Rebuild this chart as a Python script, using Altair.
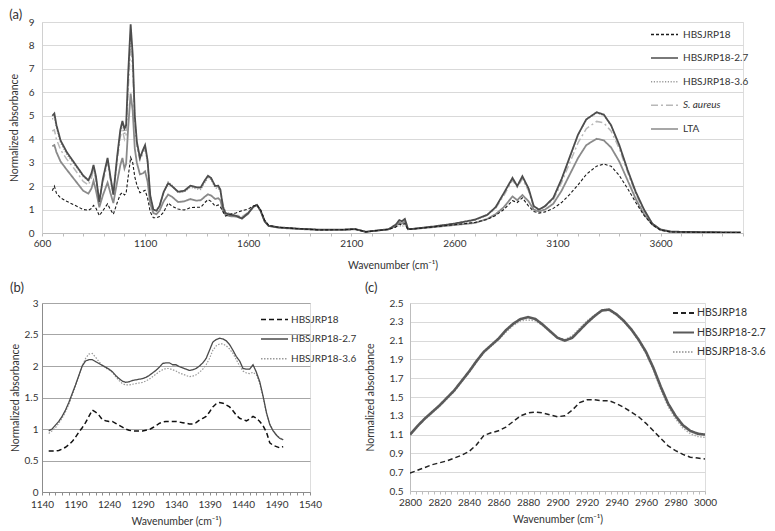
import altair as alt
import pandas as pd

FONT = "Lato"
TXT = "#333333"

SERIES_A = ["HBSJRP18", "HBSJRP18-2.7", "HBSJRP18-3.6", "S. aureus", "LTA"]
SERIES_BC = ["HBSJRP18", "HBSJRP18-2.7", "HBSJRP18-3.6"]

# ---------------- panel (a) ----------------
WN_A = [650, 660, 670, 690, 720, 760, 800, 825, 840, 850,
        862, 878, 895, 918, 932, 946, 965, 980, 990, 1000,
        1008, 1018, 1030, 1040, 1050, 1060, 1075, 1090, 1100, 1112,
        1125, 1140, 1155, 1170, 1190, 1212, 1230, 1260, 1290, 1320,
        1350, 1370, 1390, 1405, 1420, 1440, 1455, 1465, 1478, 1490,
        1510, 1540, 1570, 1600, 1625, 1642, 1660, 1680, 1700, 1750,
        1850, 1950, 2050, 2120, 2170, 2220, 2280, 2315, 2333, 2345,
        2360, 2375, 2400, 2500, 2600, 2700, 2760, 2800, 2840, 2882,
        2905, 2930, 2960, 2985, 3010, 3040, 3080, 3120, 3160, 3200,
        3240, 3290, 3325, 3360, 3400, 3440, 3480, 3520, 3560, 3600,
        3650, 3700, 3800, 3900, 3990]

A_HB = [1.80, 2.00, 1.70, 1.50, 1.35, 1.18, 1.00, 0.97, 1.05, 1.18,
        1.05, 0.74, 0.95, 1.24, 1.00, 0.80, 1.30, 1.65, 1.72, 1.62,
        1.70, 2.40, 3.22, 3.00, 2.40, 2.05, 1.72, 1.78, 1.82, 1.50,
        0.90, 0.65, 0.65, 0.70, 0.89, 1.28, 1.15, 1.02, 0.98, 1.08,
        1.10, 1.10, 1.30, 1.42, 1.35, 1.15, 1.20, 1.12, 0.90, 0.72,
        0.80, 0.85, 0.95, 1.02, 1.15, 1.20, 1.00, 0.55, 0.32, 0.24,
        0.18, 0.13, 0.14, 0.16, 0.05, 0.10, 0.15, 0.25, 0.38, 0.35,
        0.40, 0.15, 0.17, 0.26, 0.35, 0.45, 0.58, 0.75, 1.00, 1.38,
        1.30, 1.50, 1.15, 0.92, 0.85, 0.90, 1.05, 1.30, 1.65, 2.05,
        2.50, 2.85, 2.94, 2.85, 2.45, 1.90, 1.30, 0.75, 0.35, 0.12,
        0.04, 0.04, 0.03, 0.02, 0.02]

A_27 = [5.00, 5.10, 4.60, 3.95, 3.45, 2.95, 2.45, 2.25, 2.55, 2.90,
        2.40, 1.32, 2.30, 3.20, 2.40, 1.64, 3.30, 4.40, 4.78, 4.45,
        4.60, 6.80, 8.90, 7.60, 5.00, 3.90, 3.20, 3.55, 3.75, 3.10,
        1.60, 1.00, 0.95, 1.15, 1.75, 2.12, 2.00, 1.76, 1.80, 2.02,
        1.95, 1.95, 2.25, 2.44, 2.35, 2.00, 2.02, 1.85, 1.10, 0.85,
        0.78, 0.74, 0.62, 0.85, 1.12, 1.20, 0.95, 0.50, 0.30, 0.24,
        0.18, 0.14, 0.14, 0.17, 0.05, 0.10, 0.16, 0.35, 0.55, 0.50,
        0.60, 0.18, 0.18, 0.28, 0.40, 0.57, 0.78, 1.10, 1.70, 2.35,
        2.00, 2.42, 1.90, 1.15, 1.00, 1.15, 1.50, 2.30, 3.25, 4.20,
        4.85, 5.15, 5.05, 4.60, 3.75, 2.70, 1.75, 1.00, 0.40, 0.15,
        0.06, 0.05, 0.04, 0.03, 0.02]

A_36 = [4.85, 4.95, 4.50, 3.85, 3.35, 2.88, 2.40, 2.20, 2.50, 2.85,
        2.35, 1.35, 2.25, 3.15, 2.35, 1.70, 3.25, 4.30, 4.65, 4.20,
        4.40, 6.40, 8.50, 7.40, 4.90, 3.80, 3.15, 3.50, 3.70, 3.05,
        1.60, 0.98, 0.93, 1.12, 1.72, 2.18, 2.05, 1.72, 1.75, 1.95,
        1.88, 1.85, 2.15, 2.35, 2.28, 1.92, 1.90, 1.80, 1.15, 0.88,
        0.82, 0.75, 0.68, 0.85, 1.12, 1.20, 0.98, 0.52, 0.32, 0.24,
        0.18, 0.14, 0.14, 0.16, 0.05, 0.10, 0.15, 0.25, 0.32, 0.28,
        0.33, 0.15, 0.17, 0.27, 0.39, 0.55, 0.76, 1.08, 1.68, 2.30,
        2.00, 2.38, 1.85, 1.12, 1.00, 1.15, 1.48, 2.28, 3.22, 4.18,
        4.82, 5.12, 5.02, 4.57, 3.72, 2.68, 1.72, 0.98, 0.40, 0.15,
        0.05, 0.05, 0.03, 0.03, 0.02]

A_SA = [4.35, 4.40, 4.00, 3.55, 3.15, 2.70, 2.20, 2.05, 2.35, 2.70,
        2.20, 1.40, 2.15, 3.00, 2.25, 1.65, 3.10, 4.10, 4.40, 4.00,
        4.20, 6.10, 8.00, 7.00, 4.70, 3.70, 3.10, 3.40, 3.60, 3.00,
        1.55, 1.00, 0.95, 1.15, 1.75, 2.15, 2.02, 1.75, 1.78, 2.00,
        1.92, 1.92, 2.20, 2.40, 2.32, 1.98, 1.95, 1.85, 1.20, 0.90,
        0.82, 0.78, 0.70, 0.88, 1.12, 1.20, 0.98, 0.52, 0.32, 0.24,
        0.18, 0.14, 0.14, 0.17, 0.05, 0.10, 0.16, 0.33, 0.50, 0.45,
        0.55, 0.17, 0.18, 0.28, 0.40, 0.56, 0.76, 1.05, 1.60, 2.25,
        1.95, 2.30, 1.80, 1.10, 0.98, 1.12, 1.42, 2.15, 3.00, 3.85,
        4.45, 4.76, 4.70, 4.35, 3.60, 2.60, 1.65, 0.92, 0.40, 0.15,
        0.06, 0.05, 0.04, 0.03, 0.02]

A_LTA = [3.70, 3.75, 3.45, 3.05, 2.70, 2.25, 1.80, 1.68, 1.90, 2.22,
         1.80, 1.10, 1.60, 2.15, 1.70, 1.28, 2.20, 2.90, 3.20, 2.75,
         2.95, 4.50, 5.95, 5.20, 3.60, 3.00, 2.50, 2.55, 2.63, 2.20,
         1.25, 0.85, 0.80, 0.95, 1.35, 1.64, 1.55, 1.32, 1.35, 1.45,
         1.38, 1.40, 1.55, 1.65, 1.60, 1.45, 1.48, 1.40, 0.95, 0.78,
         0.72, 0.70, 0.62, 0.82, 1.12, 1.20, 0.95, 0.50, 0.30, 0.22,
         0.17, 0.13, 0.13, 0.16, 0.05, 0.10, 0.15, 0.30, 0.45, 0.40,
         0.48, 0.16, 0.17, 0.25, 0.34, 0.43, 0.60, 0.80, 1.10, 1.56,
         1.40, 1.62, 1.35, 1.00, 0.92, 1.00, 1.25, 1.80, 2.50, 3.20,
         3.75, 4.02, 3.95, 3.65, 3.05, 2.25, 1.45, 0.80, 0.36, 0.13,
         0.05, 0.04, 0.03, 0.02, 0.02]

# ---------------- panel (b) ----------------
WN_B = list(range(1150, 1501, 5))
B_HB = [0.65, 0.65, 0.65, 0.66, 0.68, 0.71, 0.75, 0.80, 0.87, 0.95,
        1.02, 1.10, 1.20, 1.30, 1.27, 1.22, 1.15, 1.13, 1.12, 1.12,
        1.09, 1.06, 1.03, 1.00, 0.98, 0.97, 0.97, 0.97, 0.97, 0.98,
        0.99, 1.02, 1.05, 1.09, 1.11, 1.12, 1.12, 1.12, 1.12, 1.11,
        1.10, 1.09, 1.08, 1.08, 1.10, 1.14, 1.17, 1.20, 1.27, 1.35,
        1.40, 1.42, 1.41, 1.38, 1.35, 1.29, 1.22, 1.17, 1.15, 1.13,
        1.16, 1.20, 1.17, 1.12, 1.05, 0.95, 0.78, 0.74, 0.72, 0.70,
        0.72]
B_27 = [0.97, 1.00, 1.06, 1.12, 1.20, 1.30, 1.42, 1.56, 1.70, 1.85,
        2.00, 2.08, 2.10, 2.10, 2.07, 2.04, 2.01, 1.98, 1.95, 1.91,
        1.85, 1.80, 1.76, 1.74, 1.75, 1.77, 1.78, 1.79, 1.80, 1.82,
        1.85, 1.89, 1.93, 1.98, 2.04, 2.05, 2.05, 2.02, 2.02, 1.99,
        1.97, 1.95, 1.93, 1.94, 1.96, 2.00, 2.05, 2.12, 2.25, 2.38,
        2.42, 2.44, 2.43, 2.40, 2.34, 2.25, 2.15, 2.08, 1.96, 1.95,
        1.95, 2.02, 1.90, 1.75, 1.52, 1.26, 1.07, 0.97, 0.90, 0.85,
        0.83]
B_36 = [0.93, 0.97, 1.02, 1.09, 1.17, 1.27, 1.39, 1.53, 1.68, 1.84,
        2.00, 2.12, 2.19, 2.20, 2.14, 2.07, 2.01, 1.97, 1.94, 1.90,
        1.83, 1.77, 1.72, 1.70, 1.70, 1.71, 1.72, 1.73, 1.74, 1.76,
        1.79, 1.83, 1.87, 1.91, 1.94, 1.96, 1.96, 1.94, 1.92, 1.89,
        1.87, 1.85, 1.83, 1.84, 1.86, 1.90, 1.95, 2.02, 2.12, 2.25,
        2.32, 2.35, 2.35, 2.32, 2.27, 2.20, 2.10, 2.00, 1.92, 1.89,
        1.88, 1.90, 1.86, 1.72, 1.50, 1.25, 1.08, 0.98, 0.91, 0.86,
        0.83]

# ---------------- panel (c) ----------------
WN_C = list(range(2800, 3001, 5))
C_HB = [0.69, 0.72, 0.75, 0.78, 0.80, 0.82, 0.85, 0.88, 0.92, 0.99,
        1.09, 1.12, 1.14, 1.18, 1.24, 1.30, 1.33, 1.34, 1.33, 1.31,
        1.29, 1.30, 1.36, 1.44, 1.47, 1.47, 1.46, 1.46, 1.43, 1.39,
        1.34, 1.29, 1.22, 1.14, 1.06, 0.98, 0.93, 0.89, 0.86, 0.85,
        0.84]
C_27 = [1.10, 1.19, 1.27, 1.34, 1.41, 1.49, 1.57, 1.67, 1.77, 1.88,
        1.98, 2.05, 2.12, 2.21, 2.28, 2.33, 2.35, 2.33, 2.27, 2.20,
        2.13, 2.10, 2.13, 2.21, 2.29, 2.36, 2.42, 2.43, 2.38, 2.31,
        2.22, 2.11, 1.98, 1.81, 1.61, 1.43, 1.30, 1.20, 1.14, 1.11,
        1.10]
C_36 = [1.09, 1.18, 1.26, 1.33, 1.40, 1.48, 1.56, 1.66, 1.76, 1.87,
        1.97, 2.04, 2.11, 2.19, 2.26, 2.31, 2.32, 2.31, 2.26, 2.19,
        2.13, 2.11, 2.15, 2.23, 2.31, 2.37, 2.42, 2.42, 2.37, 2.30,
        2.21, 2.10, 1.96, 1.79, 1.58, 1.40, 1.27, 1.17, 1.11, 1.08,
        1.07]


def long_df(wn, series, cols):
    rows = []
    for name, vals in zip(series, cols):
        for w, v in zip(wn, vals):
            rows.append({"wn": w, "val": v, "series": name})
    return pd.DataFrame(rows)


DF_A = long_df(WN_A, SERIES_A, [A_HB, A_27, A_36, A_SA, A_LTA])
DF_B = long_df(WN_B, SERIES_BC, [B_HB, B_27, B_36])
DF_C = long_df(WN_C, SERIES_BC, [C_HB, C_27, C_36])

ITALIC = {"expr": "datum.label == 'S. aureus' ? 'italic' : 'normal'"}

# legend sample line drawn to the right of the symbol anchor
PATH = "M0,0H6"


def make_legend(x, y, size, offset, pad, fs, sw):
    return alt.Legend(title=None, orient="none", legendX=x, legendY=y,
                      direction="vertical", symbolType=PATH, symbolSize=size,
                      symbolStrokeWidth=sw, labelOffset=offset, rowPadding=pad,
                      labelFont=FONT, labelFontSize=fs, labelColor=TXT,
                      padding=0, labelFontStyle=ITALIC, labelLimit=90)


def x_axis(values, expr, tick_col, lpad, tpad):
    return alt.Axis(values=values, labelExpr=expr, format="d", grid=False,
                    ticks=True, tickSize=3, tickColor=tick_col, domainColor=tick_col,
                    labelFont=FONT, labelFontSize=10, labelColor=TXT,
                    labelPadding=lpad, labelFlush=False, labelOverlap=False,
                    title="Wavenumber (cm⁻¹)", titleFont=FONT, titleFontSize=10.5,
                    titleFontWeight="normal", titleColor=TXT, titlePadding=tpad)


def y_axis(values, fmt, grid_col, dom_col, lpad, tpad):
    return alt.Axis(values=values, format=fmt, grid=True, gridColor=grid_col,
                    ticks=False, tickSize=0, domain=True, domainColor=dom_col,
                    labelFont=FONT, labelFontSize=10, labelColor=TXT,
                    labelPadding=lpad, labelFlush=False, labelOverlap=False,
                    title="Normalized absorbance", titleFont=FONT, titleFontSize=10.5,
                    titleFontWeight="normal", titleColor=TXT, titlePadding=tpad)


def ptitle(t, off):
    return alt.TitleParams(t, anchor="start", frame="bounds", font=FONT, fontSize=13,
                           fontWeight="normal", color=TXT, offset=off)


def panel(df, series, colors, dashes, widths, order, xax, xdom, yax, ydom, w, h,
          title, toff, leg):
    xenc = alt.X("wn:Q", scale=alt.Scale(domain=xdom, nice=False, zero=False), axis=xax)
    yenc = alt.Y("val:Q", scale=alt.Scale(domain=ydom, nice=False, zero=False), axis=yax)
    cenc = alt.Color("series:N", scale=alt.Scale(domain=series, range=colors), legend=leg)
    denc = alt.StrokeDash("series:N", scale=alt.Scale(domain=series, range=dashes), legend=leg)
    layers = []
    for s in order:
        i = series.index(s)
        layers.append(
            alt.Chart(df)
            .transform_filter(alt.datum.series == s)
            .mark_line(strokeWidth=widths[i], clip=True)
            .encode(x=xenc, y=yenc, color=cenc, strokeDash=denc)
        )
    return alt.layer(*layers).properties(width=w, height=h, title=ptitle(title, toff))


pa = panel(
    DF_A, SERIES_A,
    ["#1a1a1a", "#4d4d4d", "#9a9a9a", "#b8b8b8", "#8a8a8a"],
    [[3, 2], [1, 0], [1.2, 1.6], [7, 3, 2, 3], [1, 0]],
    [1.1, 1.8, 1.3, 1.5, 1.8],
    ["S. aureus", "LTA", "HBSJRP18-3.6", "HBSJRP18-2.7", "HBSJRP18"],
    x_axis(list(range(600, 4001, 100)),
           "(datum.value - 600) % 500 == 0 ? datum.label : ''", "#bdbdbd", 2, 12),
    [600, 4000],
    y_axis(list(range(0, 10)), "d", "#d9d9d9", "#d0d0d0", 8, 9),
    [0, 9], 701, 211, "(a)", -5,
    make_legend(603.5, 7, 81, 26.5, 12.6, 10, 1.5),
)

pb = panel(
    DF_B, SERIES_BC,
    ["#111111", "#4a4a4a", "#999999"],
    [[5, 3], [1, 0], [1.5, 1.5]],
    [1.5, 1.3, 1.2],
    ["HBSJRP18-3.6", "HBSJRP18-2.7", "HBSJRP18"],
    x_axis(list(range(1140, 1541, 10)),
           "(datum.value - 1140) % 50 == 0 ? datum.label : ''", "#8c8c8c", 4, 7),
    [1140, 1540],
    y_axis([0, 0.5, 1, 1.5, 2, 2.5, 3], "~g", "#a6a6a6", "#8c8c8c", 4, 4),
    [0, 3], 268, 189, "(b)", 3,
    make_legend(213.5, 11, 81, 24.5, 8.6, 10, 1.5),
)

pc = panel(
    DF_C, SERIES_BC,
    ["#222222", "#5a5a5a", "#aaaaaa"],
    [[5, 3], [1, 0], [1.5, 1.5]],
    [1.5, 2.6, 1.5],
    ["HBSJRP18-3.6", "HBSJRP18-2.7", "HBSJRP18"],
    x_axis(list(range(2800, 3001, 4)),
           "(datum.value - 2800) % 20 == 0 ? datum.label : ''", "#bdbdbd", 3, 7),
    [2800, 3000],
    y_axis([0.5, 0.7, 0.9, 1.1, 1.3, 1.5, 1.7, 1.9, 2.1, 2.3, 2.5], ".1f",
           "#d9d9d9", "#bdbdbd", 7, 14),
    [0.5, 2.5], 295, 188, "(c)", 3,
    make_legend(257.75, 4.75, 49, 18.75, 8.5, 10.5, 2),
)

RES = dict(color="independent", strokeDash="independent")

bottom = (
    alt.hconcat(pb, pc, spacing=7)
    .resolve_scale(**RES)
    .resolve_legend(**RES)
)

chart = (
    alt.vconcat(pa, bottom, spacing=10)
    .resolve_scale(**RES)
    .resolve_legend(**RES)
    .properties(padding=0)
    .configure_view(stroke=None)
    .configure(font=FONT)
)

chart.save("out.html", embed_options={"renderer": "svg", "actions": False})
